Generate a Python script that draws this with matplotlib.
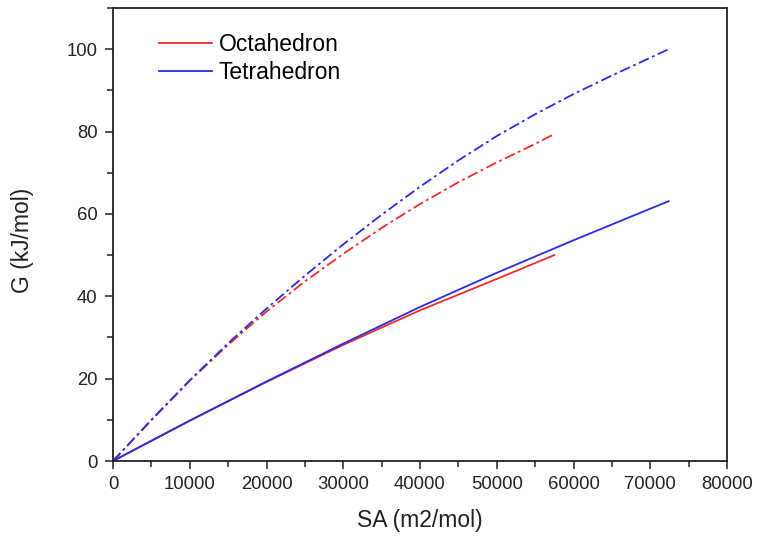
import matplotlib
matplotlib.use("Agg")
import matplotlib.pyplot as plt
from matplotlib.ticker import MultipleLocator

plt.rcParams['font.family'] = ['Liberation Sans', 'DejaVu Sans']

# Solid curves
octa_sa = [0, 10000, 20000, 30000, 40000, 50000, 57500]
octa_g = [0, 9.8, 19.2, 28.2, 36.6, 44.2, 50.0]
tetra_sa = [0, 10000, 20000, 30000, 40000, 50000, 60000, 72400]
tetra_g = [0, 9.8, 19.3, 28.5, 37.4, 45.7, 53.6, 63.1]

# Dash-dot curves
octa_sa2 = [0, 5000, 10000, 15000, 20000, 25000, 30000, 35000, 40000,
            45000, 50000, 55000, 57500]
octa_g2 = [0, 9.9, 19.5, 28.2, 36.3, 43.6, 50.3, 56.6, 62.4,
           67.7, 72.5, 77.0, 79.4]
tetra_sa2 = [0, 5000, 10000, 15000, 20000, 25000, 30000, 35000, 40000,
             45000, 50000, 55000, 60000, 65000, 72400]
tetra_g2 = [0, 10.0, 19.6, 28.6, 37.0, 45.0, 52.6, 59.8, 66.6,
            73.0, 78.9, 84.2, 89.1, 93.6, 100.0]

xticks = [0, 10000, 20000, 30000, 40000, 50000, 60000, 70000, 80000]
yticks = [0, 20, 40, 60, 80, 100]

fig = plt.figure(figsize=(7.57, 5.40), dpi=100)
ax = fig.add_axes([113 / 757, 79 / 540, 614 / 757, 453 / 540])

red = '#ee2a2a'
blue = '#2a2ae0'
dashdot = (0, (6, 2, 1.5, 2))

ax.plot(octa_sa, octa_g, color=red, lw=1.3, label='Octahedron')
ax.plot(tetra_sa, tetra_g, color=blue, lw=1.3, label='Tetrahedron')
ax.plot(octa_sa2, octa_g2, color=red, lw=1.3, linestyle=dashdot)
ax.plot(tetra_sa2, tetra_g2, color=blue, lw=1.3, linestyle=dashdot)

ax.set_xlim(0, 80000)
ax.set_ylim(0, 110)
ax.set_xticks(xticks)
ax.set_yticks(yticks)
ax.xaxis.set_minor_locator(MultipleLocator(5000))
ax.yaxis.set_minor_locator(MultipleLocator(10))
ax.tick_params(which='major', direction='out', length=6, width=1.1,
               labelsize=13.3, colors='#222222', pad=5)
ax.tick_params(which='minor', direction='out', length=4, width=1.1,
               colors='#222222')
for s in ax.spines.values():
    s.set_linewidth(1.3)
    s.set_color('#222222')

ax.set_xlabel('SA (m2/mol)', fontsize=16.5, color='#222222', va='center')
ax.set_ylabel('G (kJ/mol)', fontsize=16.5, color='#222222', va='center')
ax.xaxis.set_label_coords(0.5, (461 - 521) / 453)
ax.yaxis.set_label_coords((23 - 113) / 614, (461 - 240) / 453)

leg = ax.legend(loc='upper left', bbox_to_anchor=(0.042, 0.99), frameon=False,
                fontsize=16.5, handlelength=2.3, handletextpad=0.3,
                labelspacing=0.23)

fig.savefig('out.png', dpi=100)
